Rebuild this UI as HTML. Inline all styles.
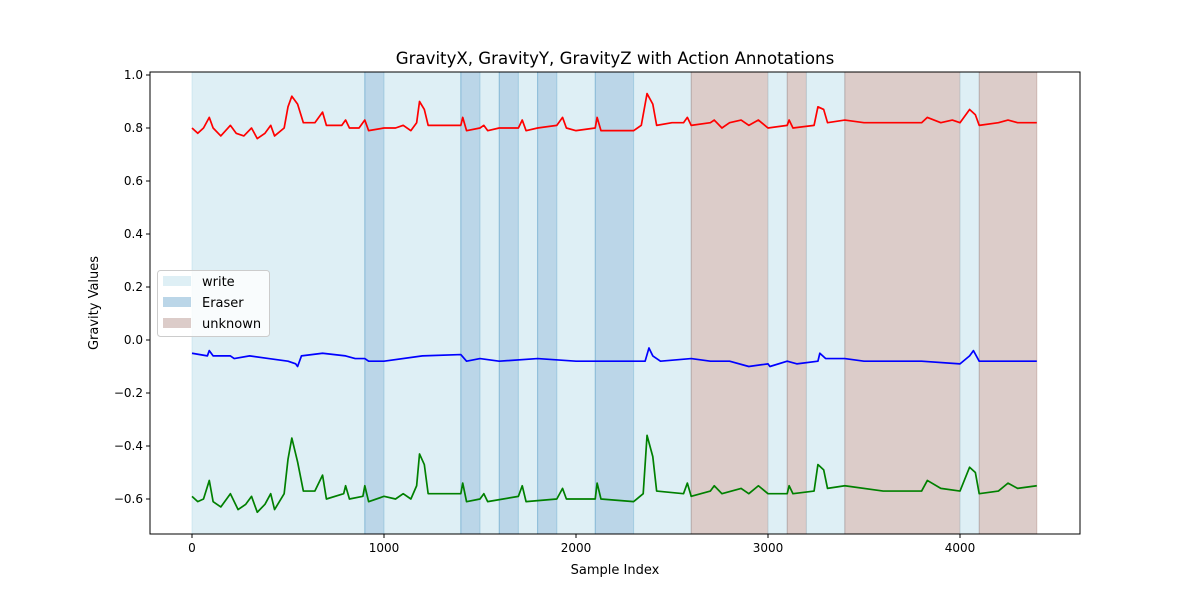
<!DOCTYPE html>
<html><head><meta charset="utf-8"><style>body{margin:0;background:#fff}svg{display:block;font-family:"DejaVu Sans","Liberation Sans",sans-serif}</style></head>
<body>
<svg id="c" width="1200" height="600"></svg>
<script>
const spanStarts=[0,900,1000,1400,1500,1600,1700,1800,1900,2100,2300,2600,3000,3100,3200,3400,4000,4100];
const spanEnds=[900,1000,1400,1500,1600,1700,1800,1900,2100,2300,2600,3000,3100,3200,3400,4000,4100,4400];
const spanLabels=["write","Eraser","write","Eraser","write","Eraser","write","Eraser","write","Eraser","write","unknown","write","unknown","write","unknown","write","unknown"];
const xIdx=[0,30,60,90,110,150,200,230,270,310,340,380,410,430,480,500,520,550,580,640,680,700,780,800,820,870,900,920,1000,1060,1100,1140,1170,1185,1210,1230,1300,1400,1410,1430,1500,1520,1540,1600,1700,1720,1740,1800,1900,1930,1950,2000,2100,2110,2130,2300,2340,2370,2400,2420,2500,2560,2580,2600,2700,2720,2760,2800,2860,2900,2950,3000,3100,3110,3130,3240,3260,3290,3310,3400,3500,3600,3700,3800,3830,3900,3960,4000,4050,4080,4100,4200,4250,4300,4400];
const gravX=[0.80,0.78,0.80,0.84,0.80,0.77,0.81,0.78,0.77,0.80,0.76,0.78,0.81,0.77,0.80,0.88,0.92,0.89,0.82,0.82,0.86,0.81,0.81,0.83,0.80,0.80,0.83,0.79,0.80,0.80,0.81,0.79,0.82,0.90,0.87,0.81,0.81,0.81,0.84,0.79,0.80,0.81,0.79,0.80,0.80,0.83,0.79,0.80,0.81,0.84,0.80,0.79,0.80,0.84,0.79,0.79,0.81,0.93,0.89,0.81,0.82,0.82,0.84,0.81,0.82,0.83,0.80,0.82,0.83,0.81,0.83,0.80,0.81,0.83,0.80,0.81,0.88,0.87,0.82,0.83,0.82,0.82,0.82,0.82,0.84,0.82,0.83,0.82,0.87,0.85,0.81,0.82,0.83,0.82,0.82];
const bIdx=[0,80,90,110,200,220,300,400,500,540,550,570,680,800,850,900,920,1000,1200,1400,1430,1500,1600,1800,2000,2300,2360,2380,2400,2440,2600,2700,2800,2900,3000,3010,3100,3150,3260,3270,3300,3400,3500,3800,4000,4050,4070,4100,4300,4400];
const gravY=[-0.05,-0.06,-0.04,-0.06,-0.06,-0.07,-0.06,-0.07,-0.08,-0.09,-0.10,-0.06,-0.05,-0.06,-0.07,-0.07,-0.08,-0.08,-0.06,-0.055,-0.08,-0.07,-0.08,-0.07,-0.08,-0.08,-0.08,-0.03,-0.06,-0.08,-0.07,-0.08,-0.08,-0.10,-0.09,-0.10,-0.08,-0.09,-0.08,-0.05,-0.07,-0.07,-0.08,-0.08,-0.09,-0.06,-0.04,-0.08,-0.08,-0.08];
const gIdx=[0,30,60,90,110,150,200,240,280,310,340,380,410,430,480,500,520,550,580,640,680,700,790,800,820,890,900,920,1000,1060,1100,1140,1170,1185,1210,1230,1400,1410,1430,1500,1520,1540,1700,1720,1740,1900,1930,1950,2100,2110,2130,2300,2350,2370,2400,2420,2560,2580,2600,2700,2720,2760,2860,2900,2950,3000,3100,3110,3130,3240,3260,3290,3310,3400,3600,3800,3830,3900,4000,4050,4080,4100,4200,4250,4300,4400];
const gravZ=[-0.59,-0.61,-0.60,-0.53,-0.61,-0.63,-0.58,-0.64,-0.62,-0.59,-0.65,-0.62,-0.58,-0.64,-0.58,-0.45,-0.37,-0.46,-0.57,-0.57,-0.51,-0.60,-0.58,-0.55,-0.60,-0.59,-0.55,-0.61,-0.59,-0.60,-0.58,-0.60,-0.55,-0.43,-0.47,-0.58,-0.58,-0.54,-0.61,-0.60,-0.58,-0.61,-0.59,-0.55,-0.61,-0.60,-0.56,-0.60,-0.60,-0.54,-0.60,-0.61,-0.58,-0.36,-0.44,-0.57,-0.58,-0.54,-0.59,-0.57,-0.55,-0.58,-0.56,-0.58,-0.55,-0.58,-0.58,-0.55,-0.58,-0.57,-0.47,-0.49,-0.56,-0.55,-0.57,-0.57,-0.53,-0.56,-0.57,-0.48,-0.50,-0.58,-0.57,-0.54,-0.56,-0.55];
const xTicks=[0,1000,2000,3000,4000];
const yTicks=[-0.6,-0.4,-0.2,0.0,0.2,0.4,0.6,0.8,1.0];

const NS="http://www.w3.org/2000/svg",svg=document.getElementById('c');
const L=150,R=1080,T=72,B=534;
const sx=v=>192+v*0.192, sy=v=>340-265*v;
function mk(t,a,p){const e=document.createElementNS(NS,t);for(const k in a)e.setAttribute(k,a[k]);(p||svg).appendChild(e);return e;}
const fills={write:["#add8e6",0.4],Eraser:["#1f77b4",0.3],unknown:["#8c564b",0.3]};
spanStarts.forEach((s,i)=>{const f=fills[spanLabels[i]];
 const r=mk('rect',{x:sx(s),y:T,width:sx(spanEnds[i])-sx(s),height:B-T,fill:f[0],'fill-opacity':f[1],stroke:f[0],'stroke-opacity':f[1]});
 
 });
function line(xs,ys,col,name){const p=mk('polyline',{points:xs.map((x,i)=>sx(x)+','+sy(ys[i])).join(' '),fill:'none',stroke:col,'stroke-width':1.7,'stroke-linejoin':'round'});
 }
line(xIdx,gravX,'#ff0000','gravity-x-line');
line(bIdx,gravY,'#0000ff','gravity-y-line');
line(gIdx,gravZ,'#008000','gravity-z-line');
const fr=mk('rect',{x:L,y:T,width:R-L,height:B-T,fill:'none',stroke:'#000','stroke-width':1});

xTicks.forEach(v=>{mk('line',{x1:sx(v),x2:sx(v),y1:B,y2:B+4,stroke:'#000'});
 const t=mk('text',{x:sx(v),y:B+18,'text-anchor':'middle','font-size':12});t.textContent=v;
 });
yTicks.forEach(v=>{mk('line',{x1:L-4,x2:L,y1:sy(v),y2:sy(v),stroke:'#000'});
 const t=mk('text',{x:L-7,y:sy(v)+4,'text-anchor':'end','font-size':12});t.textContent=(v<0?'\u2212':'')+Math.abs(v).toFixed(1);
 });
</script>
<svg style="position:absolute;left:0;top:0" width="1200" height="600">
<text x="615" y="64" text-anchor="middle" font-size="16.6">GravityX, GravityY, GravityZ with Action Annotations</text>
<text x="615" y="574" text-anchor="middle" font-size="13">Sample Index</text>
<text x="98" y="303" text-anchor="middle" font-size="13" transform="rotate(-90 98 303)">Gravity Values</text>
<g>
<rect x="157.5" y="270.5" width="112" height="66" rx="3" fill="#fff" fill-opacity="0.8" stroke="#ccc"/>
<rect x="163" y="276" width="28" height="10" fill="#add8e6" fill-opacity="0.4"/>
<text x="202" y="286" font-size="13">write</text>
<rect x="163" y="297" width="28" height="10" fill="#1f77b4" fill-opacity="0.3"/>
<text x="202" y="307" font-size="13">Eraser</text>
<rect x="163" y="318" width="28" height="10" fill="#8c564b" fill-opacity="0.3"/>
<text x="202" y="328" font-size="13">unknown</text>
</g>
</svg>
</body></html>
